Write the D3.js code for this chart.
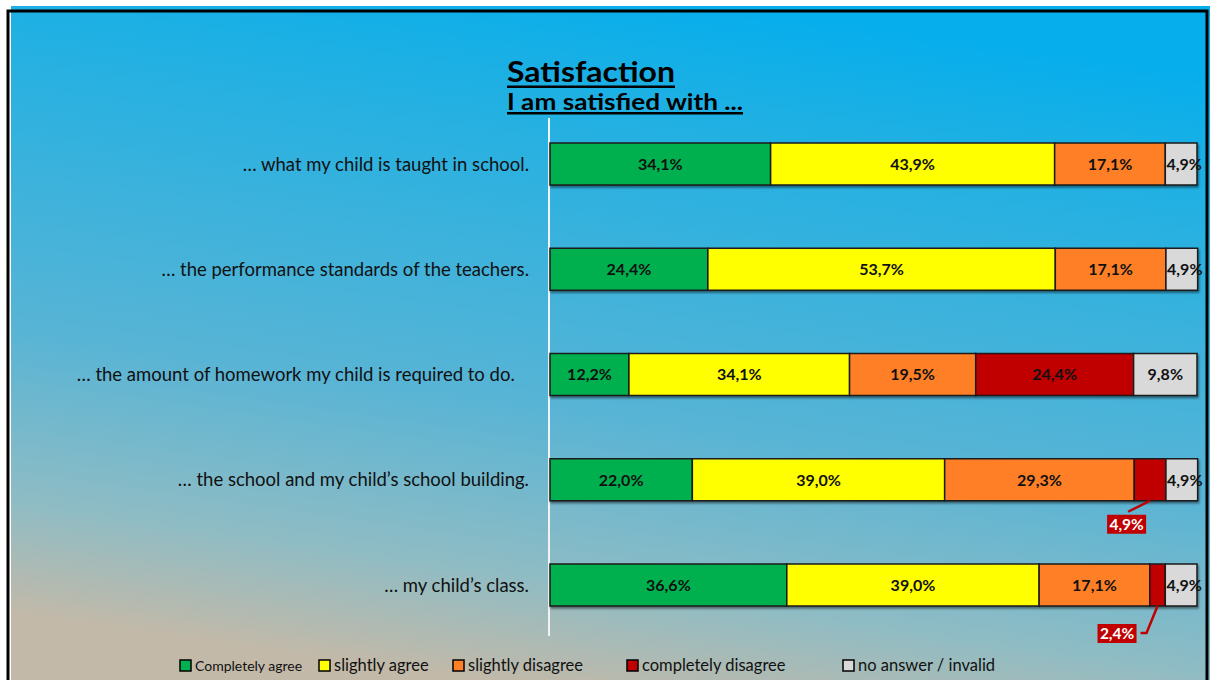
<!DOCTYPE html>
<html lang="en">
<head>
  <meta charset="UTF-8">
  <title>Satisfaction</title>
  <style>
    body { margin: 0; background: #fff; }
    svg { display: block; font-family: Lato, "Open Sans", sans-serif; }
    .cat { font-size: 18.5px; fill: #111; text-anchor: end; }
    .val { font-size: 16px; font-weight: bold; fill: #111; text-anchor: middle; }
    .leg { font-size: 16.5px; fill: #111; }
  </style>
</head>
<body>
  <svg id="chart"></svg>

  <script src="https://d3js.org/d3.v7.min.js"></script>
  <script>
    const categories = [
      '… what my child is taught in school.',
      '… the performance standards of the teachers.',
      '… the amount of homework my child is required to do.\u00a0\u00a0\u00a0',
      '… the school and my child’s school building.',
      '… my child’s class.'
    ];
    const completelyAgree    = [34.1, 24.4, 12.2, 22.0, 36.6];
    const slightlyAgree      = [43.9, 53.7, 34.1, 39.0, 39.0];
    const slightlyDisagree   = [17.1, 17.1, 19.5, 29.3, 17.1];
    const completelyDisagree = [0, 0, 24.4, 4.9, 2.4];
    const noAnswer           = [4.9, 4.9, 9.8, 4.9, 4.9];

    const seriesNames = ['Completely agree', 'slightly agree', 'slightly disagree', 'completely disagree', 'no answer / invalid'];
    const seriesColors = ['#00b050', '#ffff00', '#ff7f27', '#c00000', '#d9d9d9'];
    const seriesValues = [completelyAgree, slightlyAgree, slightlyDisagree, completelyDisagree, noAnswer];

    const W = 1210, H = 680;
    const svg = d3.select('#chart').attr('width', W).attr('height', H);
    const defs = svg.append('defs');

    const grad = defs.append('linearGradient').attr('id', 'bg')
      .attr('gradientUnits', 'userSpaceOnUse')
      .attr('x1', 700).attr('y1', 0).attr('x2', 600).attr('y2', 700);
    grad.append('stop').attr('offset', '0%').attr('stop-color', '#06aeec');
    grad.append('stop').attr('offset', '16%').attr('stop-color', '#1fb0e3');
    grad.append('stop').attr('offset', '60%').attr('stop-color', '#58b4d5');
    grad.append('stop').attr('offset', '84%').attr('stop-color', '#8fbcc4');
    grad.append('stop').attr('offset', '100%').attr('stop-color', '#c3b9a8');

    const shadow = defs.append('filter').attr('id', 'shadow')
      .attr('x', '-5%').attr('y', '-20%').attr('width', '110%').attr('height', '150%');
    shadow.append('feDropShadow').attr('dx', 1).attr('dy', 2).attr('stdDeviation', 1.2)
      .attr('flood-color', '#000').attr('flood-opacity', 0.45);

    // background + frame
    svg.append('rect').attr('x', 11).attr('y', 6).attr('width', W - 11).attr('height', H - 6)
      .attr('fill', 'url(#bg)');
    svg.append('path').attr('d', `M8,${H + 5}V11H1207V${H + 5}`)
      .attr('fill', 'none').attr('stroke', '#000').attr('stroke-width', 3);
    svg.append('line').attr('x1', 10.5).attr('x2', 10.5).attr('y1', 13).attr('y2', H)
      .attr('stroke', '#fff').attr('stroke-width', 1);

    // title (underlines drawn as rects)
    const title = svg.append('g');
    title.append('text').attr('x', 507).attr('y', 82)
      .attr('textLength', 168).attr('lengthAdjust', 'spacingAndGlyphs')
      .style('font-size', '29px').style('font-weight', 'bold')
      .attr('fill', '#000').text('Satisfaction');
    title.append('rect').attr('x', 507).attr('y', 85.5).attr('width', 168).attr('height', 2.5).attr('fill', '#000');
    title.append('text').attr('x', 507).attr('y', 109.5)
      .attr('textLength', 236).attr('lengthAdjust', 'spacingAndGlyphs')
      .style('font-size', '22px').style('font-weight', 'bold')
      .attr('fill', '#000').text('I am satisfied with ...');
    title.append('rect').attr('x', 507).attr('y', 112).attr('width', 236).attr('height', 2.5).attr('fill', '#000');

    const x = d3.scaleLinear().domain([0, 100]).range([550, 1197]);
    const y = d3.scalePoint().domain(categories).range([164, 585]);
    const barH = 42;

    // axis line
    svg.append('line').attr('x1', 549).attr('x2', 549).attr('y1', 118).attr('y2', 636)
      .attr('stroke', '#f2f2f2').attr('stroke-width', 2);

    // stacked data
    const rows = categories.map((c, i) => {
      let acc = 0;
      return seriesValues.map((s, k) => {
        const seg = { cat: c, k, v: s[i], x0: acc, x1: acc + s[i] };
        acc += s[i];
        return seg;
      });
    });

    const g = svg.append('g');
    rows.forEach(segs => {
      const row = g.append('g').attr('filter', 'url(#shadow)');
      row.selectAll('rect').data(segs.filter(d => d.v > 0)).enter().append('rect')
        .attr('x', d => x(d.x0)).attr('y', d => y(d.cat) - barH / 2)
        .attr('width', d => x(d.x1) - x(d.x0)).attr('height', barH)
        .attr('fill', d => seriesColors[d.k])
        .attr('stroke', '#1a1a1a').attr('stroke-width', 1.5);
    });

    const fmt = v => v.toFixed(1).replace('.', ',') + '%';
    const inside = rows.flat().filter(d => d.v > 0 && !(d.k === 3 && d.v < 10));
    g.selectAll('.val').data(inside).enter().append('text').classed('val', true)
      .attr('x', d => (x(d.x0) + x(d.x1)) / 2 + (d.k === 4 && d.v < 6 ? 3 : 0))
      .attr('y', d => y(d.cat)).attr('dy', '0.36em')
      .text(d => fmt(d.v));

    // callouts for small dark red segments
    const callout = [
      { bx: -43, by: 14, path: (px, py) => `M${px},${py}L${px - 22},${py + 11}` },
      { bx: -60, by: 18, path: (px, py) => `M${px},${py}L${px - 11},${py + 27}H${px - 17}` }
    ];
    const small = rows.flat().filter(d => d.k === 3 && d.v > 0 && d.v < 10);
    small.forEach((d, i) => {
      const c = callout[i];
      const px = (x(d.x0) + x(d.x1)) / 2, py = y(d.cat) + barH / 2;
      svg.append('path').attr('d', c.path(px, py)).attr('fill', 'none')
        .attr('stroke', '#c00000').attr('stroke-width', 2.5);
      const bx = px + c.bx, by = py + c.by;
      svg.append('rect').attr('x', bx).attr('y', by).attr('width', 39).attr('height', 19)
        .attr('fill', '#c00000');
      svg.append('text').attr('x', bx + 19.5).attr('y', by + 9.5).attr('dy', '0.36em')
        .attr('text-anchor', 'middle').attr('fill', '#fff')
        .style('font-size', '15.5px').style('font-weight', 'bold').text(fmt(d.v));
    });

    // category labels
    svg.selectAll('.cat').data(categories).enter().append('text').classed('cat', true)
      .attr('x', 529).attr('y', d => y(d)).attr('dy', '0.36em').text(d => d);

    // legend
    const legX = [180, 319, 453, 627, 843];
    const leg = svg.selectAll('.legitem').data(seriesNames).enter().append('g')
      .attr('transform', (d, i) => `translate(${legX[i]},660)`);
    leg.append('rect').attr('width', 11).attr('height', 11)
      .attr('fill', (d, i) => seriesColors[i]).attr('stroke', '#000').attr('stroke-width', 1.5);
    leg.append('text').classed('leg', true).attr('x', 15).attr('y', 11)
      .style('font-size', (d, i) => i === 0 ? '14px' : '16.5px').text(d => d);
  </script>
</body>
</html>
